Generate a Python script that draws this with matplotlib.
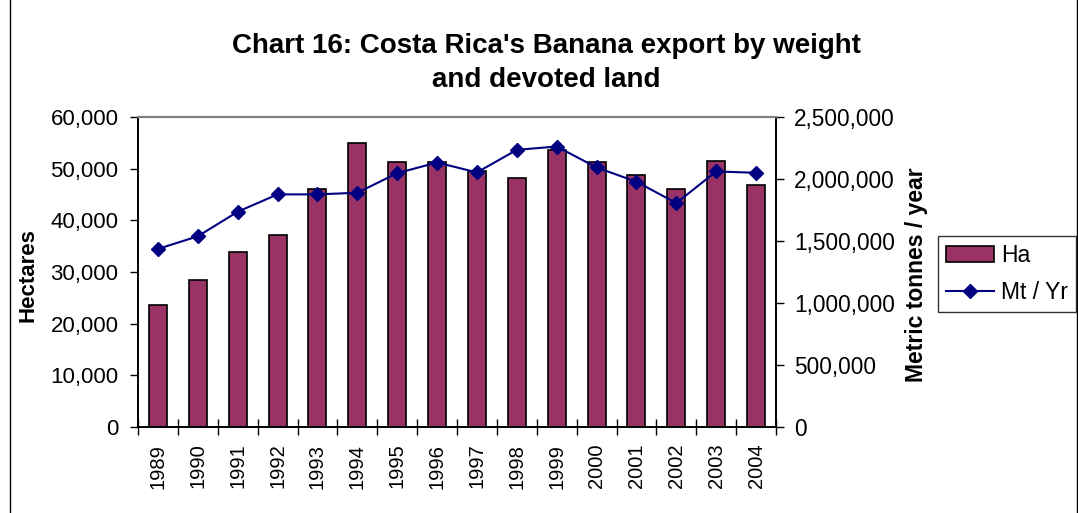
import matplotlib.pyplot as plt
from matplotlib.patches import Rectangle
from matplotlib.ticker import FuncFormatter, FixedLocator
import numpy as np

plt.rcParams["font.family"] = ["Liberation Sans", "DejaVu Sans"]

years = ["1989", "1990", "1991", "1992", "1993", "1994", "1995", "1996",
         "1997", "1998", "1999", "2000", "2001", "2002", "2003", "2004"]

hectares = [23600, 28400, 33800, 37200, 46100, 55000, 51200, 51250,
            49500, 48100, 53600, 51200, 48800, 46100, 51500, 46750]

tonnes = [1436000, 1538000, 1736000, 1876000, 1876000, 1889000, 2047000, 2133000,
          2053000, 2235000, 2262000, 2093000, 1978000, 1806000, 2061000, 2050000]

bar_color = "#993366"
line_color = "#000080"

fig = plt.figure(figsize=(10.78, 5.13), dpi=100)
# plot area: x 138..776 px, y 117..427 px
ax = fig.add_axes([138 / 1078, 1 - 427 / 513, 638 / 1078, 310 / 513])
ax2 = ax.twinx()

x = np.arange(len(years))
bars = ax.bar(x, hectares, width=0.45, color=bar_color, edgecolor="black",
              linewidth=1.2, label="Ha", zorder=2)
line, = ax2.plot(x, tonnes, color=line_color, marker="D", markersize=7,
                 linewidth=1.5, label="Mt / Yr", zorder=3)

ax.set_xlim(-0.5, len(years) - 0.5)
ax.set_ylim(0, 60000)
ax2.set_ylim(0, 2500000)
ax.set_yticks(np.arange(0, 60001, 10000))
ax2.set_yticks(np.arange(0, 2500001, 500000))

fmt = FuncFormatter(lambda v, p: f"{int(v):,}")
ax.yaxis.set_major_formatter(fmt)
ax2.yaxis.set_major_formatter(fmt)

# category boundaries get the tick marks, year labels sit in between
ax.xaxis.set_minor_locator(FixedLocator(np.arange(-0.5, len(years), 1.0)))
ax.tick_params(axis="x", which="minor", length=12, direction="inout", width=1)
ax.tick_params(axis="x", which="major", length=0, pad=12)
ax.set_xticks(x)
ax.set_xticklabels(years, rotation=90, fontsize=14.5)

ax.tick_params(axis="y", labelsize=16, length=6, width=1, direction="out", pad=8)
ax2.tick_params(axis="y", labelsize=16.3, length=6, width=1, direction="out", pad=7)

fig.text(28 / 1078, 1 - 275 / 513, "Hectares", rotation=90, ha="center",
         va="center", fontsize=16, fontweight="bold")
fig.text(917 / 1078, 1 - 275 / 513, "Metric tonnes / year", rotation=90,
         ha="center", va="center", fontsize=16.5, fontweight="bold")

for a in (ax, ax2):
    a.spines["top"].set_color("#808080")
    a.spines["top"].set_linewidth(1.5)
    a.spines["left"].set_linewidth(1.2)
    a.spines["right"].set_linewidth(1.2)
    a.spines["bottom"].set_linewidth(1.2)
ax2.set_zorder(ax.get_zorder() + 1)
ax2.patch.set_visible(False)

fig.text(0.507, 1 - 46 / 513, "Chart 16: Costa Rica's Banana export by weight",
         ha="center", va="center", fontsize=20, fontweight="bold")
fig.text(0.507, 1 - 80 / 513, "and devoted land",
         ha="center", va="center", fontsize=20, fontweight="bold")

leg = fig.legend([bars, line], ["Ha", "Mt / Yr"], loc="upper left",
                 bbox_to_anchor=(938 / 1078, 1 - 236 / 513), fontsize=16.5,
                 frameon=True, fancybox=False, edgecolor="black",
                 handlelength=2.1, handletextpad=0.3, borderpad=0.35,
                 labelspacing=0.6, borderaxespad=0)
leg.get_frame().set_linewidth(1.0)

fig.patches.append(Rectangle((0.009, -0.01), 0.99, 1.02, transform=fig.transFigure,
                             fill=False, edgecolor="black", linewidth=1.0))

fig.savefig("out.png", dpi=100)
